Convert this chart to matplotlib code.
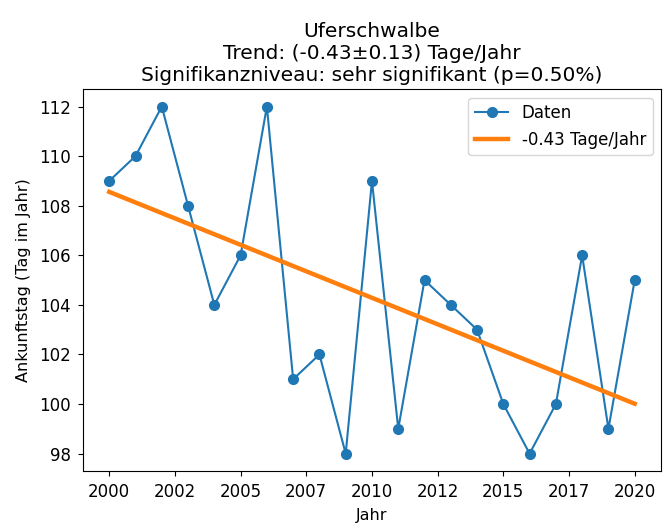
import numpy as np
import matplotlib
matplotlib.use("Agg")
import matplotlib.pyplot as plt
from matplotlib.ticker import FuncFormatter

years = [2000, 2001, 2002, 2003, 2004, 2005, 2006, 2007, 2008, 2009, 2010,
         2011, 2012, 2013, 2014, 2015, 2016, 2017, 2018, 2019, 2020]
arrival = [109, 110, 112, 108, 104, 106, 112, 101, 102, 98, 109,
           99, 105, 104, 103, 100, 98, 100, 106, 99, 105]

x = np.array(years, dtype=float)
y = np.array(arrival, dtype=float)
slope, intercept = np.polyfit(x, y, 1)

fig, ax = plt.subplots(figsize=(6.69, 5.31), dpi=100)
ax.plot(x, y, marker='o', markersize=7, color='tab:blue', label='Daten')
ax.plot(x, slope * x + intercept, color='tab:orange', linewidth=3.2,
        label='-0.43 Tage/Jahr')
ax.set_xticks(np.arange(2000, 2020.1, 2.5))
ax.xaxis.set_major_formatter(FuncFormatter(lambda v, p: str(int(v))))
ax.tick_params(labelsize=12, pad=5)
ax.set_xlabel('Jahr', fontsize=11.5, labelpad=5)
ax.set_ylabel('Ankunftstag (Tag im Jahr)', fontsize=11.5, labelpad=6)
ax.set_title('Uferschwalbe\nTrend: (-0.43±0.13) Tage/Jahr\n'
             'Signifikanzniveau: sehr signifikant (p=0.50%)', fontsize=14.5)
ax.legend(loc='upper right', fontsize=12)
fig.subplots_adjust(left=0.124, right=0.988, top=0.832, bottom=0.113)
fig.savefig('out.png', dpi=100)
